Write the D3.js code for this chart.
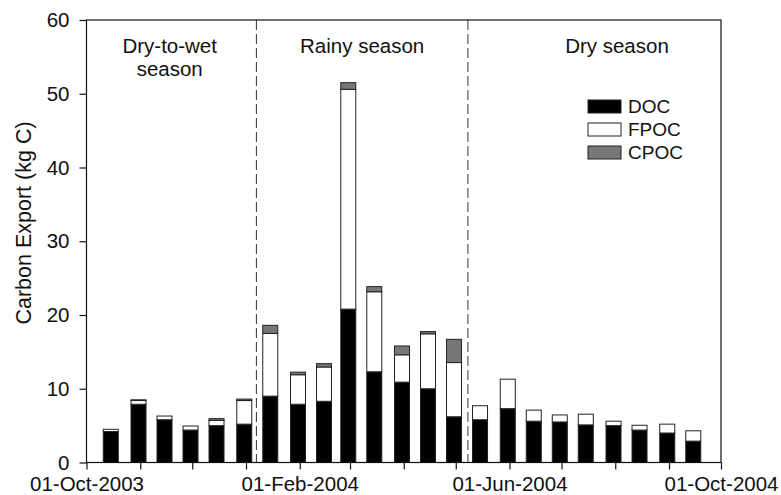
<!DOCTYPE html>
<html>
<head>
<meta charset="utf-8">
<script src="https://cdn.jsdelivr.net/npm/d3@7"></script>
<style>
  html, body { margin: 0; padding: 0; background: #fff; }
  svg text { font-family: "Liberation Sans", Arial, Helvetica, sans-serif; fill: #111; }
</style>
</head>
<body>
<svg id="chart" width="781" height="495"></svg>
<script>
// Semi-monthly sampling dates (bar centres)
const dates = [
  "2003-10-15", "2003-10-31", "2003-11-15", "2003-11-30", "2003-12-15", "2003-12-31",
  "2004-01-15", "2004-01-31", "2004-02-15", "2004-02-29", "2004-03-15", "2004-03-31",
  "2004-04-15", "2004-04-30", "2004-05-15", "2004-05-31", "2004-06-15", "2004-06-30",
  "2004-07-15", "2004-07-31", "2004-08-15", "2004-08-31", "2004-09-15"
];
// Carbon export per interval (kg C)
const doc  = [4.2, 7.9, 5.8, 4.4, 5.0, 5.2, 9.0, 7.9, 8.3, 20.8, 12.3, 10.9, 10.0, 6.2, 5.8, 7.3, 5.6, 5.5, 5.1, 5.0, 4.4, 4.0, 2.9];
const fpoc = [0.3, 0.5, 0.5, 0.55, 0.7, 3.2, 8.5, 4.0, 4.65, 29.8, 10.85, 3.7, 7.45, 7.35, 1.9, 4.0, 1.5, 0.95, 1.45, 0.6, 0.65, 1.2, 1.4];
const cpoc = [0.0, 0.1, 0.0, 0.0, 0.25, 0.2, 1.1, 0.35, 0.45, 0.9, 0.7, 1.2, 0.3, 3.15, 0.0, 0.0, 0.0, 0.0, 0.0, 0.0, 0.0, 0.0, 0.0];

const seriesNames = ["DOC", "FPOC", "CPOC"];
const seriesColors = ["#000000", "#ffffff", "#777777"];

// Season boundaries and labels
const seasonBreaks = ["2004-01-07", "2004-05-08"];
const seasonLabels = [
  { lines: ["Dry-to-wet", "season"], at: "2003-11-18" },
  { lines: ["Rainy season"], at: "2004-03-08" },
  { lines: ["Dry season"], at: "2004-08-02" }
];

const yTicks = [0, 10, 20, 30, 40, 50, 60];
const xLabelDates = ["2003-10-01", "2004-02-01", "2004-06-01", "2004-10-01"];

const parse = d3.timeParse("%Y-%m-%d");
const fmt = d3.timeFormat("%d-%b-%Y");

const svg = d3.select("#chart");
const plotL = 86.5, plotR = 721, plotT = 20, plotB = 462.5;

const x = d3.scaleTime()
  .domain([parse("2003-10-01"), parse("2004-10-01")])
  .range([plotL, plotR]);
const y = d3.scaleLinear().domain([0, 60]).range([plotB, plotT]);

const rows = dates.map((d, i) => ({ date: parse(d), DOC: doc[i], FPOC: fpoc[i], CPOC: cpoc[i] }));
const stacked = d3.stack().keys(seriesNames)(rows);

const barW = 15;
const g = svg.append("g");

stacked.forEach((layer, k) => {
  g.selectAll(null)
    .data(layer.filter(s => s[1] - s[0] > 0))
    .join("rect")
    .attr("x", s => x(s.data.date) - barW / 2)
    .attr("width", barW)
    .attr("y", s => y(s[1]))
    .attr("height", s => y(s[0]) - y(s[1]))
    .attr("fill", seriesColors[k])
    .attr("stroke", "#222")
    .attr("stroke-width", 1);
});

// Season dividers
svg.selectAll(".divider")
  .data(seasonBreaks)
  .join("line")
  .attr("x1", d => x(parse(d))).attr("x2", d => x(parse(d)))
  .attr("y1", plotT).attr("y2", plotB)
  .attr("stroke", "#333").attr("stroke-width", 1)
  .attr("stroke-dasharray", "10,4");

// Season labels
seasonLabels.forEach(s => {
  const t = svg.append("text")
    .attr("x", x(parse(s.at)))
    .attr("y", 53)
    .attr("text-anchor", "middle")
    .style("font-size", "20.5px");
  s.lines.forEach((ln, i) => {
    t.append("tspan").attr("x", x(parse(s.at))).attr("dy", i === 0 ? 0 : 23).text(ln);
  });
});

// Frame
svg.append("rect")
  .attr("x", plotL).attr("y", plotT)
  .attr("width", plotR - plotL).attr("height", plotB - plotT)
  .attr("fill", "none").attr("stroke", "#111").attr("stroke-width", 1.2);

// Y axis
const yAxis = svg.append("g")
  .attr("transform", `translate(${plotL},0)`)
  .call(d3.axisLeft(y).tickValues(yTicks).tickSize(7).tickPadding(10));
yAxis.select(".domain").remove();
yAxis.selectAll("line").attr("stroke", "#111").attr("stroke-width", 1.2);
yAxis.selectAll("text").style("font-size", "20.5px").attr("fill", "#111");

// X axis: monthly ticks, labels every fourth month
const labelSet = new Set(xLabelDates);
const xAxis = svg.append("g")
  .attr("transform", `translate(0,${plotB})`)
  .call(d3.axisBottom(x)
    .ticks(d3.timeMonth.every(1))
    .tickSize(7)
    .tickPadding(7)
    .tickFormat(d => labelSet.has(d3.timeFormat("%Y-%m-%d")(d)) ? fmt(d) : ""));
xAxis.select(".domain").remove();
xAxis.selectAll("line").attr("stroke", "#111").attr("stroke-width", 1.2);
xAxis.selectAll("text").style("font-size", "20.5px").attr("fill", "#111");

// Y axis title
svg.append("text")
  .attr("transform", "translate(31,223) rotate(-90)")
  .attr("text-anchor", "middle")
  .style("font-size", "21.5px")
  .text("Carbon Export (kg C)");

// Legend
const legend = svg.append("g").attr("transform", "translate(588,100)");
seriesNames.forEach((name, i) => {
  const row = legend.append("g").attr("transform", `translate(0,${i * 23})`);
  row.append("rect")
    .attr("x", 0).attr("y", 0).attr("width", 33).attr("height", 13)
    .attr("fill", seriesColors[i]).attr("stroke", "#222").attr("stroke-width", 1);
  row.append("text")
    .attr("x", 40).attr("y", 13)
    .style("font-size", "19px")
    .text(name);
});
</script>
</body>
</html>
